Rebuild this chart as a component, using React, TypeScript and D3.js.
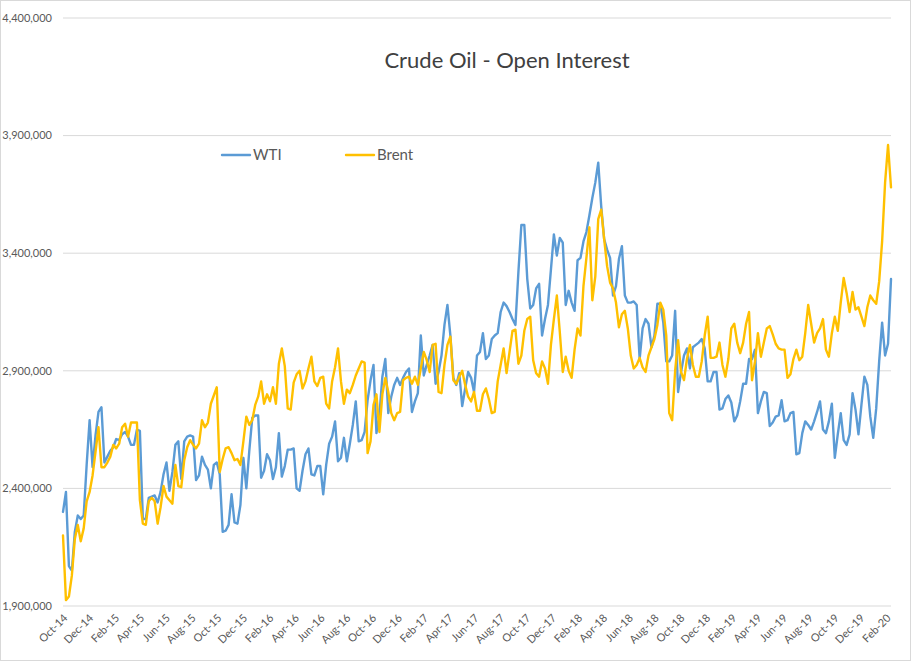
import React from "react";
import * as d3 from "d3";

// Weekly open interest, thousands of contracts
const wti: number[] = [
  2300, 2385, 2070, 2050, 2215, 2285, 2270, 2285, 2500, 2690, 2490, 2625, 2725, 2745, 2510, 2535, 2560, 2575, 2610, 2605,
  2630, 2640, 2620, 2585, 2585, 2650, 2645, 2270, 2270, 2360, 2365, 2370, 2340, 2385, 2460, 2510, 2390, 2470, 2585, 2600,
  2440, 2600, 2620, 2625, 2620, 2435, 2455, 2535, 2500, 2480, 2400, 2500, 2510, 2460, 2215, 2220, 2245,
  2375, 2255, 2250, 2330, 2530, 2400, 2560, 2700, 2710, 2710, 2445, 2475, 2545, 2520, 2440, 2490, 2635, 2450, 2495, 2565,
  2565, 2570, 2400, 2390, 2475, 2545, 2570, 2460, 2455, 2495, 2495, 2375, 2500, 2590, 2620, 2685, 2515, 2530, 2615, 2515,
  2590, 2670, 2770, 2600, 2605, 2640, 2775, 2860, 2925, 2635, 2710, 2875, 2950, 2720, 2790, 2840,
  2870, 2840, 2870, 2895, 2910, 2725, 2770, 2805, 3050, 2880, 2925, 2965, 3010, 2845, 2895, 2965, 3095, 3180, 3050, 2870,
  2840, 2890, 2750, 2825, 2895, 2870, 2810, 2965, 2980, 3060, 2950, 2965, 3035, 3050, 3060, 3150, 3190, 3175, 3150, 3120,
  3095, 3320, 3520, 3520, 3290, 3165, 3180, 3250, 3270, 3050, 3120, 3180, 3330, 3480, 3390, 3465,
  3445, 3180, 3240, 3190, 3155, 3370, 3380, 3450, 3490, 3560, 3635, 3700, 3785, 3600, 3460, 3415, 3380, 3220, 3260, 3375,
  3430, 3220, 3190, 3190, 3195, 3180, 2950, 3080, 3120, 3100, 3000, 3050, 3185, 3185, 3105, 2940, 2940, 2965, 3155, 2810,
  2895, 2965, 2995, 2910, 3000, 3010, 3020, 3035, 2995, 2855, 2855, 2895, 2895, 2735, 2740, 2780,
  2795, 2765, 2685, 2710, 2770, 2845, 2845, 2950, 2950, 2990, 2720, 2770, 2810, 2805, 2665, 2680, 2705, 2710, 2775, 2685,
  2690, 2720, 2725, 2545, 2550, 2635, 2685, 2670, 2650, 2685, 2725, 2770, 2650, 2635, 2685, 2760, 2530, 2630, 2720, 2605,
  2585, 2630, 2805, 2735, 2630, 2755, 2875, 2840, 2705, 2615, 2740, 2940, 3105, 2965, 3015, 3290,
];

const brent: number[] = [
  2200, 1925, 1940, 2030, 2185, 2245, 2175, 2230, 2345, 2385, 2455, 2555, 2660, 2490, 2490, 2510, 2535, 2585, 2570, 2590,
  2660, 2675, 2620, 2680, 2680, 2680, 2350, 2250, 2245, 2345, 2360, 2345, 2250, 2320, 2410, 2365, 2350, 2335, 2500, 2410,
  2405, 2520, 2575, 2605, 2585, 2570, 2590, 2690, 2660, 2680, 2760, 2795, 2830, 2470, 2525, 2570, 2575,
  2550, 2520, 2525, 2500, 2600, 2705, 2670, 2690, 2755, 2790, 2855, 2760, 2800, 2770, 2830, 2760, 2930, 2995, 2920, 2740,
  2735, 2850, 2885, 2900, 2825, 2855, 2910, 2960, 2855, 2835, 2870, 2875, 2760, 2740, 2855, 2915, 2995, 2855, 2760, 2820,
  2805, 2840, 2880, 2910, 2940, 2935, 2550, 2600, 2755, 2800, 2640, 2800, 2870, 2810, 2720, 2690,
  2720, 2725, 2860, 2870, 2875, 2845, 2875, 2840, 2910, 2980, 2945, 2895, 3010, 3015, 2810, 2805, 2925, 3010, 3045, 2860,
  2845, 2875, 2900, 2840, 2790, 2770, 2810, 2730, 2730, 2800, 2825, 2780, 2720, 2725, 2855, 2925, 2995, 2890, 2980, 3070,
  3075, 2930, 2965, 3070, 3120, 3130, 2945, 2890, 2875, 2940, 2910, 2845, 3010, 3120, 3220, 3065,
  2895, 2960, 2900, 2870, 2990, 3080, 3050, 3260, 3380, 3510, 3200, 3300, 3545, 3585, 3460, 3345, 3275, 3250, 3190, 3085,
  3140, 3155, 3080, 2965, 2910, 2925, 2955, 2915, 2895, 2965, 3000, 3035, 3095, 3190, 3160, 3050, 2720, 2690, 2900, 3030,
  2895, 2860, 2950, 3010, 2925, 2875, 2875, 2940, 3050, 3130, 2955, 2955, 2960, 3020, 2925, 2875,
  2950, 3080, 3100, 3020, 2975, 3020, 3100, 3150, 2860, 2940, 3060, 2960, 3020, 3080, 3090, 3055, 3015, 2995, 2990, 2990,
  2870, 2885, 2950, 2990, 2945, 2960, 3060, 3180, 3100, 3020, 3060, 3080, 3120, 2990, 2960, 3060, 3130, 3070, 3190, 3295,
  3230, 3150, 3235, 3160, 3170, 3130, 3090, 3170, 3220, 3200, 3185, 3280, 3450, 3700, 3860, 3680,
];

const yTicks: number[] = [1900, 2400, 2900, 3400, 3900, 4400];
const startDate = new Date(2014, 8, 30);
const firstLabel = new Date(2014, 9, 1);
const lastLabel = new Date(2020, 1, 2);

const title = "Crude Oil - Open Interest";
const seriesNames = ["WTI", "Brent"];
const seriesColors = ["#5B9BD5", "#FFC000"];

const W = 911;
const H = 661;
const FONT = "Lato, 'Open Sans', sans-serif";

export default function App() {
  const dates = wti.map((_, i) => d3.timeDay.offset(startDate, 7 * i));
  const x = d3
    .scaleTime()
    .domain([dates[0], dates[dates.length - 1]])
    .range([63, 891]);
  const y = d3.scaleLinear().domain([1900, 4400]).range([606, 18]);

  const line = d3
    .line<number>()
    .x((_, i) => x(dates[i]))
    .y((d) => y(d))
    .curve(d3.curveLinear);

  const monthTicks = d3.timeMonth.range(firstLabel, lastLabel, 2);
  const fmtMonth = d3.timeFormat("%b-%y");
  const fmtY = (v: number) => d3.format(",")(v * 1000);

  const series = [wti, brent];

  return (
    <>
      <style>{`html,body{margin:0;padding:0;background:#fff;}`}</style>
      <svg width={W} height={H} style={{ display: "block" }} fontFamily={FONT}>
        <rect x={0.5} y={0.5} width={W - 1} height={H - 1} fill="#fff" stroke="#d9d9d9" />
        {yTicks.map((t) => (
          <g key={t}>
            <line x1={63} x2={891} y1={y(t)} y2={y(t)} stroke="#d9d9d9" strokeWidth={1} />
            <text x={52} y={y(t)} dy="0.35em" textAnchor="end" fontSize={11} fill="#595959">
              {fmtY(t)}
            </text>
          </g>
        ))}
        {monthTicks.map((d) => (
          <text
            key={+d}
            transform={`translate(${x(d) + 2},${616}) rotate(-45)`}
            dy="0.35em"
            textAnchor="end"
            fontSize={11}
            fill="#595959"
          >
            {fmtMonth(d)}
          </text>
        ))}
        {series.map((s, k) => (
          <path
            key={k}
            d={line(s) || ""}
            fill="none"
            stroke={seriesColors[k]}
            strokeWidth={2.4}
            strokeLinejoin="round"
            strokeLinecap="round"
          />
        ))}
        <text x={507} y={68} textAnchor="middle" fontSize={22} fill="#404040">
          {title}
        </text>
        {seriesNames.map((n, k) => {
          const lx = k === 0 ? 222 : 346;
          return (
            <g key={n}>
              <line x1={lx} x2={lx + 28} y1={155} y2={155} stroke={seriesColors[k]} strokeWidth={2.4} strokeLinecap="round" />
              <text x={lx + 31} y={155} dy="0.35em" fontSize={15} fill="#595959">
                {n}
              </text>
            </g>
          );
        })}
      </svg>
    </>
  );
}
